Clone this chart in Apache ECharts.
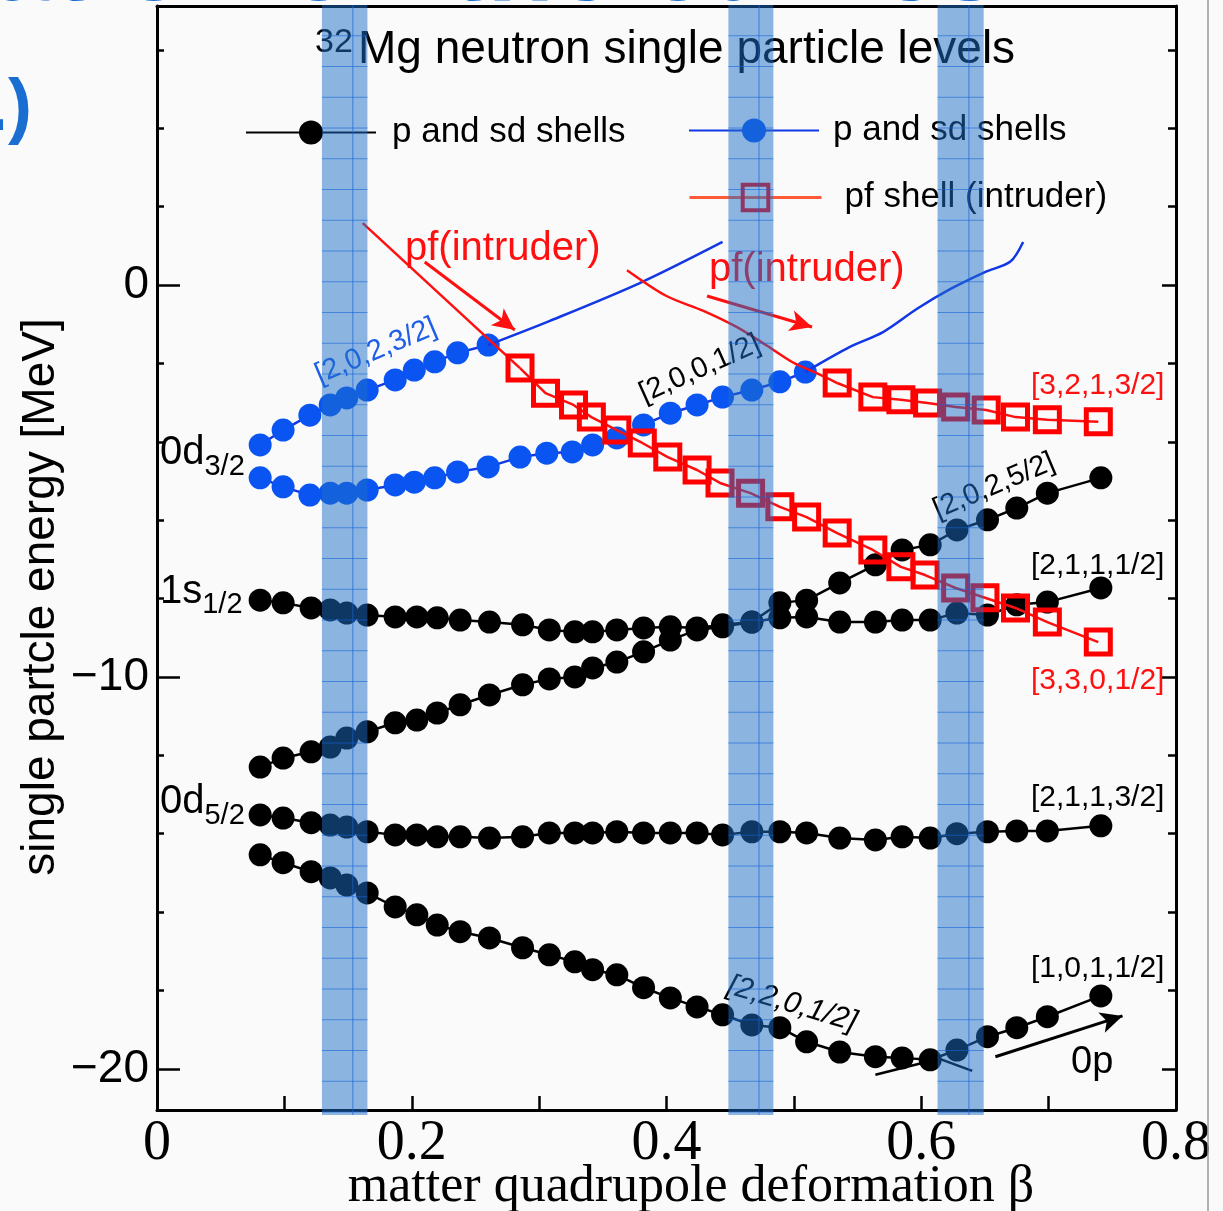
<!DOCTYPE html>
<html><head><meta charset="utf-8">
<script src="https://cdn.jsdelivr.net/npm/echarts@6/dist/echarts.min.js"></script>
<style>html,body{margin:0;padding:0;background:#fafafa}#c{width:1223px;height:1211px}</style>
</head><body><div id="c"></div>
<script>
// ---------- data (beta, energy in MeV) ----------
const xTickLabels = [0, 0.2, 0.4, 0.6, 0.8];
const yMajorTicks = [0, -10, -20];
const yMinorTicks = [6, 4, 2, 0, -2, -4, -6, -8, -10, -12, -14, -16, -18, -20];
const legendNames = { sdBlack: 'p and sd shells', sdBlue: 'p and sd shells', pf: 'pf shell (intruder)' };

const blackLowest = [[0.081,-14.54],[0.099,-14.74],[0.121,-14.97],[0.136,-15.13],[0.149,-15.31],[0.165,-15.51],[0.187,-15.87],[0.204,-16.07],[0.22,-16.33],[0.238,-16.5],[0.261,-16.66],[0.287,-16.91],[0.308,-17.09],[0.328,-17.27],[0.342,-17.47],[0.361,-17.6],[0.382,-17.93],[0.403,-18.19],[0.424,-18.42],[0.444,-18.62],[0.467,-18.88],[0.489,-18.95],[0.51,-19.31],[0.536,-19.57],[0.564,-19.69],[0.585,-19.72],[0.607,-19.77],[0.628,-19.52],[0.652,-19.18],[0.675,-18.95],[0.699,-18.67],[0.741,-18.14]];
const blackD52 = [[0.081,-13.52],[0.099,-13.6],[0.121,-13.72],[0.136,-13.78],[0.149,-13.83],[0.165,-13.95],[0.187,-14.03],[0.204,-14.03],[0.22,-14.08],[0.238,-14.08],[0.261,-14.11],[0.287,-14.08],[0.308,-13.98],[0.328,-13.98],[0.342,-13.98],[0.361,-13.95],[0.382,-13.98],[0.403,-13.98],[0.424,-13.98],[0.444,-14.03],[0.467,-13.95],[0.489,-13.95],[0.51,-13.98],[0.536,-14.11],[0.564,-14.16],[0.585,-14.08],[0.607,-14.11],[0.628,-14.0],[0.652,-13.95],[0.675,-13.93],[0.699,-13.93],[0.741,-13.8]];
const blackRising = [[0.081,-12.3],[0.099,-12.07],[0.121,-11.91],[0.136,-11.79],[0.149,-11.56],[0.165,-11.4],[0.187,-11.17],[0.204,-11.1],[0.22,-10.92],[0.238,-10.71],[0.261,-10.46],[0.287,-10.2],[0.308,-10.05],[0.328,-10.0],[0.342,-9.77],[0.361,-9.62],[0.382,-9.36],[0.403,-9.06],[0.424,-8.8],[0.444,-8.72],[0.467,-8.6],[0.489,-8.11],[0.51,-8.04],[0.536,-7.6],[0.564,-7.14],[0.585,-6.76],[0.607,-6.63],[0.628,-6.25],[0.652,-5.99],[0.675,-5.69],[0.699,-5.31],[0.741,-4.92]];
const blackS12 = [[0.081,-8.04],[0.099,-8.11],[0.121,-8.24],[0.136,-8.29],[0.149,-8.37],[0.165,-8.42],[0.187,-8.47],[0.204,-8.47],[0.22,-8.49],[0.238,-8.55],[0.261,-8.6],[0.287,-8.67],[0.308,-8.8],[0.328,-8.85],[0.342,-8.85],[0.361,-8.8],[0.382,-8.75],[0.403,-8.72],[0.424,-8.75],[0.444,-8.67],[0.467,-8.6],[0.489,-8.49],[0.51,-8.47],[0.536,-8.6],[0.564,-8.6],[0.585,-8.55],[0.607,-8.55],[0.628,-8.37],[0.652,-8.42],[0.675,-8.16],[0.699,-8.09],[0.741,-7.73]];
const blueUpper = [[0.081,-4.08],[0.099,-3.7],[0.12,-3.32],[0.136,-3.06],[0.149,-2.88],[0.165,-2.68],[0.187,-2.42],[0.202,-2.17],[0.218,-1.96],[0.236,-1.73],[0.26,-1.53]];
const blueLower = [[0.081,-4.92],[0.099,-5.15],[0.12,-5.36],[0.136,-5.31],[0.149,-5.31],[0.165,-5.23],[0.187,-5.1],[0.202,-5.03],[0.218,-4.92],[0.236,-4.77],[0.26,-4.64],[0.285,-4.39],[0.306,-4.29],[0.326,-4.26],[0.342,-4.08],[0.361,-3.9],[0.382,-3.57],[0.403,-3.27],[0.424,-3.06],[0.444,-2.86],[0.467,-2.68],[0.489,-2.47],[0.509,-2.22]];
const pfLow = [[0.285,-2.12],[0.305,-2.76],[0.327,-3.06],[0.341,-3.37],[0.361,-3.7],[0.381,-4.03],[0.401,-4.39],[0.424,-4.72],[0.442,-5.05],[0.466,-5.31],[0.489,-5.66],[0.51,-5.92],[0.534,-6.33],[0.562,-6.76],[0.584,-7.19],[0.603,-7.4],[0.627,-7.73],[0.65,-7.98],[0.674,-8.24],[0.699,-8.6],[0.739,-9.11]];
const pfHigh = [[0.534,-2.5],[0.562,-2.86],[0.584,-2.93],[0.605,-3.01],[0.627,-3.11],[0.651,-3.19],[0.674,-3.37],[0.699,-3.44],[0.739,-3.49]];
// hand-drawn continuation lines
const blueTrailA = [[0.26,-1.53],[0.308,-0.92],[0.379,0.05],[0.444,1.1]];
const blueTrailB = [[0.509,-2.22],[0.544,-1.58],[0.570,-1.2],[0.597,-0.6],[0.623,-0.1],[0.650,0.33],[0.670,0.6],[0.680,1.1]];
const redTrailA = [[0.1615,1.58],[0.285,-2.12]];
const redTrailB = [[0.369,0.38],[0.400,-0.28],[0.429,-0.66],[0.455,-1.07],[0.479,-1.55],[0.499,-1.97],[0.518,-2.25],[0.534,-2.5]];
const blackTrailA = [[0.564,-20.15],[0.607,-19.8]];
const blackTrailB = [[0.615,-19.75],[0.640,-20.05]];
// arrows [from, to]
const redArrows = [[[0.2102,0.587],[0.2809,-1.148]], [[0.4318,-0.28],[0.5143,-1.07]]];
const blackArrows = [[[0.6582,-19.69],[0.758,-18.65]]];
// highlighted beta bands
const bands = [[0.1295,0.1652],[0.4486,0.4839],[0.6128,0.649]];

// ---------- chart ----------
const SANS = 'Liberation Sans, Arial, sans-serif';
const SERIF = 'Liberation Serif, Times New Roman, serif';
const chart = echarts.init(document.getElementById('c'), null, {renderer: 'canvas'});

function dotSeries(name, data, color, lineColor) {
  return { type: 'line', name, data, xAxisIndex: 0, yAxisIndex: 0, symbol: 'circle', symbolSize: 23,
    showAllSymbol: true, itemStyle: { color }, lineStyle: { color: lineColor || color, width: 2.5 },
    emphasis: { disabled: true }, z: 3 };
}
function pfSeries(data) {
  return { type: 'line', name: 'pf', data, symbol: 'rect', symbolSize: 24, showAllSymbol: true,
    itemStyle: { color: 'rgba(0,0,0,0)', borderColor: '#ff0000', borderWidth: 5 },
    lineStyle: { color: '#ff1010', width: 2.5 }, emphasis: { disabled: true }, z: 5 };
}
function trail(data, color, w) {
  return { type: 'line', name: 'trail', data, symbol: 'none', smooth: 0.3, lineStyle: { color, width: w || 2.5 }, z: 4, silent: true };
}
function arrows(list, color) {
  return { type: 'line', name: 'arrow', data: [], z: 6, silent: true,
    markLine: { silent: true, symbol: ['none', 'arrow'], symbolSize: [16, 22], animation: false,
      label: { show: false }, lineStyle: { color, width: 3, type: 'solid' },
      data: list.map(a => [{ coord: a[0] }, { coord: a[1] }]) } };
}
const fmtY = v => v < 0 ? '\u2212' + (-v) : String(v);

function txt(x, y, text, opts) {
  const o = opts || {};
  return { type: 'text', x, y, rotation: o.rot || 0, z: 10,
    style: { text, fill: o.color || '#000', font: (o.style || '') + ' ' + (o.size || 30) + 'px ' + (o.family || SANS),
      align: o.align || 'left', verticalAlign: 'middle', textAlign: o.align || 'left', textVerticalAlign: 'middle', rich: o.rich } };
}
const subRich = (big, small, off) => ({ a: { fontSize: big, fontFamily: SANS, fill: '#000' }, b: { fontSize: small, fontFamily: SANS, fill: '#000', padding: [off, 0, 0, 0] } });

const yBase = { type: 'value', min: -21.05, max: 7.12, splitLine: { show: false } };
const option = {
  backgroundColor: '#fafafa',
  animation: false,
  textStyle: { fontFamily: SANS },
  grid: { left: 157, right: 47, top: 6, bottom: 101 },
  xAxis: [
    { type: 'value', position: 'bottom', min: 0, max: 0.8, interval: 0.1,
      axisLine: { onZero: false, lineStyle: { color: '#000', width: 3 } },
      axisTick: { inside: true, length: 14, lineStyle: { color: '#000', width: 2.5 } },
      axisLabel: { customValues: xTickLabels, formatter: v => (v === 0 ? '0' : String(+v.toFixed(1))), color: '#000', fontFamily: SERIF, fontSize: 56, margin: 6 },
      splitLine: { show: false } },
    { type: 'value', position: 'top', min: 0, max: 0.8, interval: 0.1,
      axisLine: { show: true, onZero: false, lineStyle: { color: '#000', width: 3 } },
      axisTick: { show: false }, axisLabel: { show: false }, splitLine: { show: false } }
  ],
  yAxis: [
    Object.assign({}, yBase, { position: 'left',
      axisLine: { show: true, onZero: false, lineStyle: { color: '#000', width: 3 } },
      axisTick: { show: true, inside: true, length: 23, customValues: yMajorTicks, lineStyle: { color: '#000', width: 2.5 } },
      axisLabel: { customValues: yMajorTicks, formatter: fmtY, color: '#000', fontFamily: SANS, fontSize: 46, margin: 8 } }),
    Object.assign({}, yBase, { position: 'left',
      axisLine: { show: false, onZero: false }, axisLabel: { show: false },
      axisTick: { show: true, inside: true, length: 7, customValues: yMinorTicks, lineStyle: { color: '#000', width: 2.5 } } }),
    Object.assign({}, yBase, { position: 'right',
      axisLine: { show: true, onZero: false, lineStyle: { color: '#000', width: 3 } }, axisLabel: { show: false },
      axisTick: { show: true, inside: true, length: 14, customValues: yMajorTicks, lineStyle: { color: '#000', width: 2.5 } } }),
    Object.assign({}, yBase, { position: 'right',
      axisLine: { show: false, onZero: false }, axisLabel: { show: false },
      axisTick: { show: true, inside: true, length: 8, customValues: yMinorTicks, lineStyle: { color: '#000', width: 2.5 } } })
  ],
  legend: [
    { left: 245, top: 115, padding: 0, itemWidth: 130, itemHeight: 30, selectedMode: false, data: ['sdBlack'],
      formatter: n => legendNames[n], textStyle: { fontSize: 35, fontFamily: SANS, color: '#000', padding: [0, 0, 0, 11] } },
    { left: 688, top: 113, padding: 0, itemWidth: 130, itemHeight: 30, selectedMode: false, data: ['sdBlue'],
      formatter: n => legendNames[n], textStyle: { fontSize: 35, fontFamily: SANS, color: '#000', padding: [0, 0, 0, 9] } },
    { left: 688, top: 180, padding: 0, itemWidth: 132, itemHeight: 32, selectedMode: false,
      data: [{ name: 'pf', itemStyle: { color: 'rgba(0,0,0,0)', borderColor: '#ff0000', borderWidth: 4 }, lineStyle: { color: '#ff5a36', width: 3 } }],
      formatter: n => legendNames[n], textStyle: { fontSize: 35, fontFamily: SANS, color: '#000', padding: [0, 0, 0, 18] } }
  ],
  series: [
    trail(blackTrailA, '#000', 2.5), trail(blackTrailB, '#000', 2.5),
    dotSeries('sdBlack', blackLowest, '#000'),
    dotSeries('sdBlack', blackD52, '#000'),
    dotSeries('sdBlack', blackRising, '#000'),
    dotSeries('sdBlack', blackS12, '#000'),
    trail(blueTrailA, '#1238e6', 2.5), trail(blueTrailB, '#1238e6', 2.5),
    dotSeries('sdBlue', blueUpper, '#0a55f2', '#1238e6'),
    dotSeries('sdBlue', blueLower, '#0a55f2', '#1238e6'),
    trail(redTrailA, '#ff1010', 2.5), trail(redTrailB, '#ff1010', 2.5),
    pfSeries(pfLow), pfSeries(pfHigh),
    arrows(redArrows, '#ff1010'), arrows(blackArrows, '#000'),
    { type: 'custom', name: 'bands', data: bands, z: 50, silent: true, clip: false,
      encode: { x: [0, 1] },
      renderItem: function (params, api) {
        const x0 = api.coord([api.value(0), 0])[0];
        const x1 = api.coord([api.value(1), 0])[0];
        const cs = params.coordSys;
        const top = cs.y - 1, bottom = cs.y + cs.height + 5, w = x1 - x0;
        const ch = [{ type: 'rect', shape: { x: x0, y: top, width: w, height: bottom - top }, style: { fill: 'rgba(30,110,200,0.5)' } }];
        const lx = x0 + w * 0.68;
        ch.push({ type: 'line', shape: { x1: lx, y1: top, x2: lx, y2: bottom }, style: { stroke: 'rgba(20,100,215,0.7)', lineWidth: 1 } });
        for (let y = top + 30.75; y < bottom; y += 30.75) {
          ch.push({ type: 'line', shape: { x1: x0, y1: y, x2: x1, y2: y }, style: { stroke: 'rgba(20,100,215,0.6)', lineWidth: 1 } });
        }
        return { type: 'group', children: ch };
      } }
  ],
  graphic: [
    // slide background remnants
    txt(-8, -30, 'ation on the curves', { size: 110, style: 'bold', color: '#1a6ed2' }),
    txt(32, 110, '1.)', { size: 72, style: 'bold', color: '#1a6ed2', align: 'right' }),
    { type: 'line', shape: { x1: 1208, y1: 0, x2: 1208, y2: 1211 }, style: { stroke: '#9a9a9a', lineWidth: 1.5 }, z: 1 },
    // title
    txt(315, 43, '32', { size: 34 }),
    txt(358, 50, 'Mg neutron single particle levels', { size: 46 }),
    // axis names
    txt(41, 597, 'single partcle energy [MeV]', { size: 46, align: 'center', rot: Math.PI / 2 }),
    txt(691, 1187, 'matter quadrupole deformation \u03b2', { size: 52, family: SERIF, align: 'center' }),
    // level labels on left
    txt(160, 453, '{a|0d}{b|3/2}', { rich: subRich(40, 29, 28) }),
    txt(160, 592, '{a|1s}{b|1/2}', { rich: subRich(40, 29, 26) }),
    txt(160, 802, '{a|0d}{b|5/2}', { rich: subRich(40, 29, 28) }),
    // annotations
    txt(405, 249, 'pf(intruder)', { size: 40, color: '#ff1010' }),
    txt(709, 270, 'pf(intruder)', { size: 40, color: '#ff1010' }),
    txt(376, 351, '[2,0,2,3/2]', { size: 29, color: '#1f5fe8', align: 'center', rot: 0.40 }),
    txt(700, 369, '[2,0,0,1/2]', { size: 29, align: 'center', rot: 0.42 }),
    txt(994, 486, '[2,0,2,5/2]', { size: 29, align: 'center', rot: 0.40 }),
    txt(792, 1004, '[2,2,0,1/2]', { size: 30, align: 'center', rot: -0.29, style: 'italic' }),
    txt(1031, 386, '[3,2,1,3/2]', { size: 30, color: '#ff1010' }),
    txt(1031, 566, '[2,1,1,1/2]', { size: 30 }),
    txt(1031, 681, '[3,3,0,1/2]', { size: 30, color: '#ff1010' }),
    txt(1031, 798, '[2,1,1,3/2]', { size: 30 }),
    txt(1031, 969, '[1,0,1,1/2]', { size: 30 }),
    txt(1071, 1063, '0p', { size: 38 })
  ]
};
chart.setOption(option);
</script></body></html>
